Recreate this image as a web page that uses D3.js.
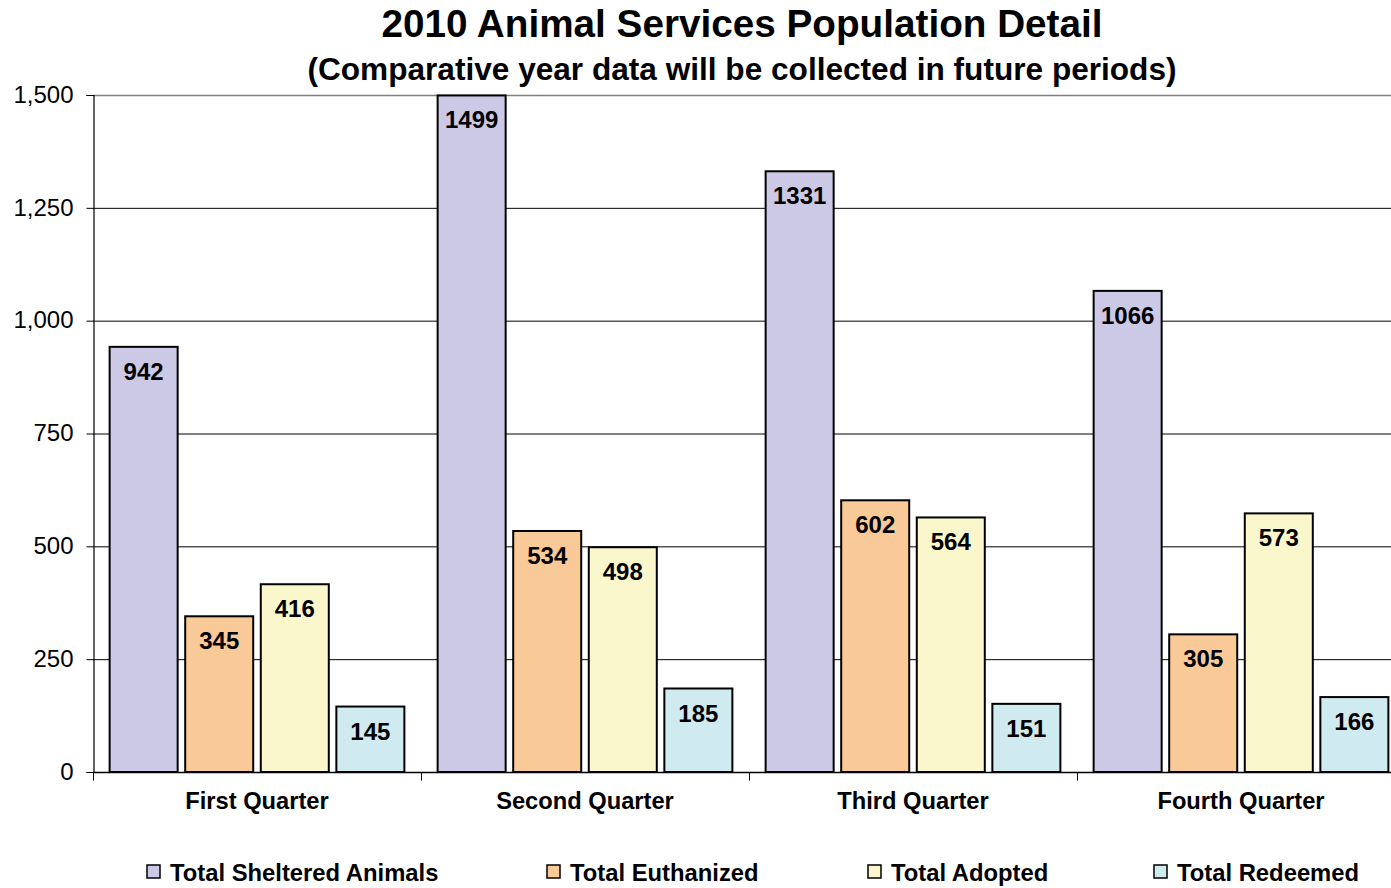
<!DOCTYPE html>
<html>
<head>
<meta charset="utf-8">
<script src="https://cdn.jsdelivr.net/npm/d3@7"></script>
<style>
  html, body { margin: 0; padding: 0; background: #fff; }
  svg { display: block; font-family: "Liberation Sans", Arial, sans-serif; }
</style>
</head>
<body>
<svg id="chart" width="1391" height="888"></svg>
<script>
// ---- data ----
const categories = ["First Quarter", "Second Quarter", "Third Quarter", "Fourth Quarter"];
const seriesNames = ["Total Sheltered Animals", "Total Euthanized", "Total Adopted", "Total Redeemed"];
const sheltered = [942, 1499, 1331, 1066];
const euthanized = [345, 534, 602, 305];
const adopted = [416, 498, 564, 573];
const redeemed = [145, 185, 151, 166];
const yTicks = [0, 250, 500, 750, 1000, 1250, 1500];
const colors = ["#CCC9E6", "#F9C997", "#FAF7CD", "#CFEBF0"];

const seriesValues = [sheltered, euthanized, adopted, redeemed];

(function () {
const svg = d3.select("#chart");
const W = 1391, H = 888;
const mLeft = 93, mTop = 95, mBottom = 772;
const bandRight = 1405; // last category band extends past picture edge

const x0 = d3.scaleBand().domain(categories).range([mLeft, bandRight]).paddingInner(0).paddingOuter(0);
const x1 = d3.scaleBand().domain(seriesNames).range([0, x0.bandwidth()]).paddingInner(0.1).paddingOuter(0.22);
const y = d3.scaleLinear().domain([0, 1500]).range([mBottom, mTop]);

// gridlines
svg.append("g").selectAll("line").data(yTicks.filter(d => d > 0)).join("line")
  .attr("x1", mLeft).attr("x2", W)
  .attr("y1", d => y(d) + 0.5).attr("y2", d => y(d) + 0.5)
  .attr("stroke", d => d === 1500 ? "#808080" : "#000")
  .attr("stroke-width", d => d === 1500 ? 1.5 : 1);

// y axis
const yAxis = svg.append("g").attr("transform", `translate(${mLeft + 0.5},0)`)
  .call(d3.axisLeft(y).tickValues(yTicks).tickSize(7).tickPadding(13).tickFormat(d3.format(",")));
yAxis.select(".domain").attr("stroke", "#000").attr("stroke-width", 1.2);
yAxis.selectAll(".tick line").attr("stroke", "#000");
yAxis.selectAll(".tick text").attr("font-size", "24px").attr("font-family", "Liberation Sans, Arial, sans-serif").attr("fill", "#000").attr("dy", "0.3em");

// bars
const groups = svg.append("g").selectAll("g").data(categories).join("g")
  .attr("transform", c => `translate(${x0(c)},0)`);

groups.each(function(c, ci) {
  const g = d3.select(this);
  const data = seriesNames.map((s, si) => ({ s, si, v: seriesValues[si][ci] }));
  g.selectAll("rect").data(data).join("rect")
    .attr("x", d => x1(d.s))
    .attr("y", d => y(d.v))
    .attr("width", x1.bandwidth())
    .attr("height", d => y(0) - y(d.v))
    .attr("fill", d => colors[d.si])
    .attr("stroke", "#000")
    .attr("stroke-width", 2);
  g.selectAll("text").data(data).join("text")
    .attr("x", d => x1(d.s) + x1.bandwidth() / 2)
    .attr("y", d => y(d.v) + 33)
    .attr("text-anchor", "middle")
    .attr("font-size", "24px")
    .attr("font-weight", "bold")
    .attr("fill", "#000")
    .text(d => d.v);
});

// x axis
const xAxis = svg.append("g").attr("transform", `translate(0,${mBottom + 0.5})`);
xAxis.append("line").attr("x1", mLeft).attr("x2", W).attr("y1", 0).attr("y2", 0)
  .attr("stroke", "#000").attr("stroke-width", 1.5);
const bounds = categories.map(c => x0(c));
xAxis.selectAll("line.tk").data(bounds).join("line").attr("class", "tk")
  .attr("x1", d => d + 0.5).attr("x2", d => d + 0.5).attr("y1", 0).attr("y2", 8)
  .attr("stroke", "#000");
xAxis.selectAll("text").data(categories).join("text")
  .attr("x", c => x0(c) + x0.bandwidth() / 2)
  .attr("y", 36)
  .attr("text-anchor", "middle")
  .attr("font-size", "23.7px")
  .attr("font-weight", "bold")
  .attr("fill", "#000")
  .text(c => c);

// titles
svg.append("text").attr("x", 742).attr("y", 37).attr("text-anchor", "middle")
  .attr("font-size", "38.7px").attr("font-weight", "bold").text("2010 Animal Services Population Detail");
svg.append("text").attr("x", 742).attr("y", 80).attr("text-anchor", "middle")
  .attr("font-size", "31.6px").attr("font-weight", "bold").text("(Comparative year data will be collected in future periods)");

// legend
const legendX = [147, 547, 868, 1154];
const leg = svg.append("g").selectAll("g").data(seriesNames).join("g")
  .attr("transform", (d, i) => `translate(${legendX[i]},865)`);
leg.append("rect").attr("x", 0).attr("y", 0).attr("width", 13).attr("height", 13)
  .attr("fill", (d, i) => colors[i]).attr("stroke", "#000").attr("stroke-width", 1.5);
leg.append("text").attr("x", 23).attr("y", 15.5).attr("font-size", "23.8px").attr("font-weight", "bold")
  .attr("fill", "#000").text(d => d);
})();
</script>
</body>
</html>
